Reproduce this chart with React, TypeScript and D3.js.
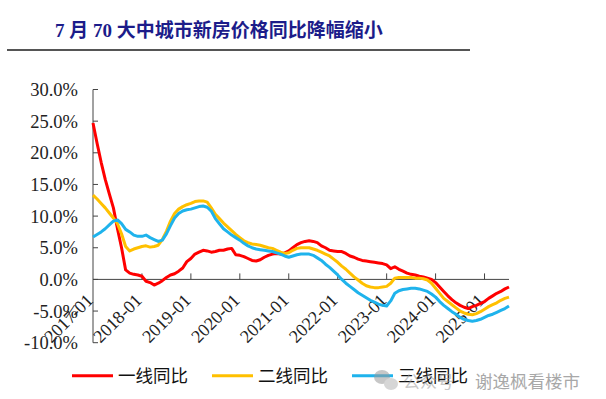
import React from "react";
import * as d3 from "d3";

const startYear = 2017;
const months = 103; // 2017-01 .. 2025-07
const tickLabels = ["2017-01","2018-01","2019-01","2020-01","2021-01","2022-01","2023-01","2024-01","2025-01"];
const yTicks = [-10, -5, 0, 5, 10, 15, 20, 25, 30];

const tier1 = [
  24.7,21.5,18.5,15.8,13.5,11.3,8.0,5.0,1.5,1.0,0.8,0.7,
  0.5,-0.3,-0.5,-0.9,-0.6,-0.2,0.3,0.7,0.9,1.3,1.8,2.8,
  3.3,4.0,4.3,4.6,4.5,4.3,4.4,4.6,4.6,4.8,4.9,3.9,
  3.8,3.6,3.3,3.0,2.9,3.1,3.5,3.8,4.0,4.1,4.0,4.2,
  4.5,5.0,5.5,5.8,6.0,6.1,6.0,5.8,5.3,5.0,4.6,4.5,
  4.4,4.4,4.1,3.7,3.5,3.2,3.0,2.9,2.8,2.7,2.6,2.5,
  2.3,1.7,2.0,1.6,1.3,1.0,0.8,0.7,0.5,0.4,0.2,0.0,
  -0.5,-1.2,-1.9,-2.6,-3.2,-3.7,-4.1,-4.4,-4.6,-4.3,-4.1,-3.8,
  -3.5,-3.0,-2.6,-2.2,-1.9,-1.5,-1.2
];
const tier2 = [
  13.3,12.7,12.0,11.3,10.5,9.7,8.8,7.2,5.2,4.5,4.8,5.0,
  5.2,5.3,5.1,5.2,5.4,6.3,7.6,9.2,10.4,11.1,11.5,11.8,
  12.0,12.3,12.4,12.4,12.2,11.3,10.3,9.6,8.9,8.3,7.7,7.1,
  6.6,6.1,5.8,5.6,5.5,5.4,5.2,5.0,4.9,4.6,4.3,4.1,
  4.2,4.6,4.9,5.0,5.0,5.0,4.8,4.6,4.3,4.0,3.7,3.2,
  2.7,2.1,1.6,1.0,0.4,-0.1,-0.6,-1.0,-1.2,-1.3,-1.3,-1.2,
  -1.1,-0.6,0.2,0.3,0.3,0.3,0.3,0.2,0.2,0.1,-0.1,-0.6,
  -1.4,-2.2,-3.0,-3.5,-4.0,-4.5,-5.0,-5.3,-5.5,-5.6,-5.4,-5.1,
  -4.7,-4.3,-4.0,-3.7,-3.3,-3.0,-2.8
];
const tier3 = [
  6.7,7.1,7.5,8.0,8.6,9.2,9.4,8.8,7.9,7.5,7.0,6.8,
  6.8,7.0,6.6,6.3,6.0,6.2,7.2,8.5,9.7,10.4,10.8,11.0,
  11.1,11.3,11.5,11.6,11.4,10.8,9.6,8.8,8.0,7.5,7.0,6.6,
  6.2,5.7,5.3,5.0,4.8,4.7,4.6,4.5,4.4,4.2,4.0,3.7,
  3.5,3.7,3.9,4.0,4.0,4.0,3.8,3.4,3.0,2.4,1.9,1.3,
  0.7,0.0,-0.6,-1.1,-1.6,-2.1,-2.5,-2.9,-3.3,-3.6,-3.9,-4.1,
  -4.2,-3.4,-2.2,-1.8,-1.6,-1.5,-1.4,-1.4,-1.5,-1.7,-1.9,-2.3,
  -2.8,-3.5,-4.1,-4.6,-5.1,-5.5,-6.0,-6.3,-6.5,-6.6,-6.5,-6.3,
  -6.0,-5.7,-5.5,-5.2,-4.9,-4.6,-4.2
];

const seriesNames = ["一线同比", "二线同比", "三线同比"];
const seriesColors = ["#ff0000", "#ffc000", "#1fb3ec"];
const seriesData = [tier1, tier2, tier3];

const titleText = "7 月 70 大中城市新房价格同比降幅缩小";

export default function App() {
  const x = d3.scaleLinear().domain([0, months - 1]).range([93, 509]);
  const y = d3.scaleLinear().domain([-10, 30]).range([342.7, 89.5]);
  const line = d3
    .line<number>()
    .x((_, i) => x(i))
    .y((d) => y(d));

  const serif = "'Liberation Serif', 'Times New Roman', serif";
  const cjk = "'Liberation Serif', 'Noto Sans CJK SC', serif";

  const legendX = [72, 212, 352];

  return (
    <svg
      width={606}
      height={399}
      style={{ position: "absolute", left: 0, top: 0, background: "#fff" }}
    >
      <rect x={0} y={0} width={606} height={399} fill="#fff" />
      {/* Title */}
      <text
        x={55}
        y={37}
        fontFamily={cjk}
        fontSize={19}
        fontWeight="bold"
        fill="#1c1c8a"
      >
        {titleText}
      </text>
      <line x1={7} x2={470} y1={50} y2={50} stroke="#555" strokeWidth={2} />

      {/* Y axis */}
      <line x1={93} x2={93} y1={y(30)} y2={y(-10)} stroke="#444" strokeWidth={1} />
      {yTicks.map((t) => (
        <g key={t}>
          <line x1={93} x2={98} y1={y(t)} y2={y(t)} stroke="#444" strokeWidth={1} />
          <text
            x={78}
            y={y(t)}
            dy="0.36em"
            textAnchor="end"
            fontFamily={serif}
            fontSize={18.5}
            fill="#222"
          >
            {t.toFixed(1) + "%"}
          </text>
        </g>
      ))}

      {/* X axis at 0 */}
      <line x1={93} x2={x(months - 1)} y1={y(0)} y2={y(0)} stroke="#444" strokeWidth={1} />
      {tickLabels.map((lab, k) => {
        const tx = x(k * 12);
        return (
          <g key={lab}>
            {k > 0 && (
              <line x1={tx} x2={tx} y1={y(0)} y2={y(0) - 6} stroke="#444" strokeWidth={1} />
            )}
            <text
              transform={`translate(${tx + 1},${y(0) + 22}) rotate(-45)`}
              textAnchor="end"
              fontFamily={serif}
              fontSize={18}
              fill="#222"
            >
              {lab}
            </text>
          </g>
        );
      })}

      {/* Lines */}
      {seriesData.map((d, i) => (
        <path
          key={i}
          d={line(d) || ""}
          fill="none"
          stroke={seriesColors[i]}
          strokeWidth={3}
          strokeLinejoin="round"
        />
      ))}

      {/* Legend */}
      {seriesNames.map((n, i) => (
        <g key={n}>
          <line
            x1={legendX[i]}
            x2={legendX[i] + 41}
            y1={375.7}
            y2={375.7}
            stroke={seriesColors[i]}
            strokeWidth={3}
          />
          <text
            x={legendX[i] + 46}
            y={382}
            fontFamily="'Noto Sans CJK SC', sans-serif"
            fontSize={17.5}
            fill="#111"
          >
            {n}
          </text>
        </g>
      ))}

      {/* Watermark */}
      <g opacity={0.55} fill="#9a9a9a">
        <ellipse cx={382} cy={377} rx={8} ry={7} />
        <ellipse cx={391} cy={384} rx={7} ry={6} fill="#b5b5b5" />
        <text x={403} y={388} fontFamily="'Noto Sans CJK SC', sans-serif" fontSize={17}>
          公众号
        </text>
      </g>
      <text
        x={475}
        y={388}
        fontFamily="'Noto Sans CJK SC', sans-serif"
        fontSize={17.5}
        fill="#a8a8a8"
      >
        谢逸枫看楼市
      </text>
    </svg>
  );
}
